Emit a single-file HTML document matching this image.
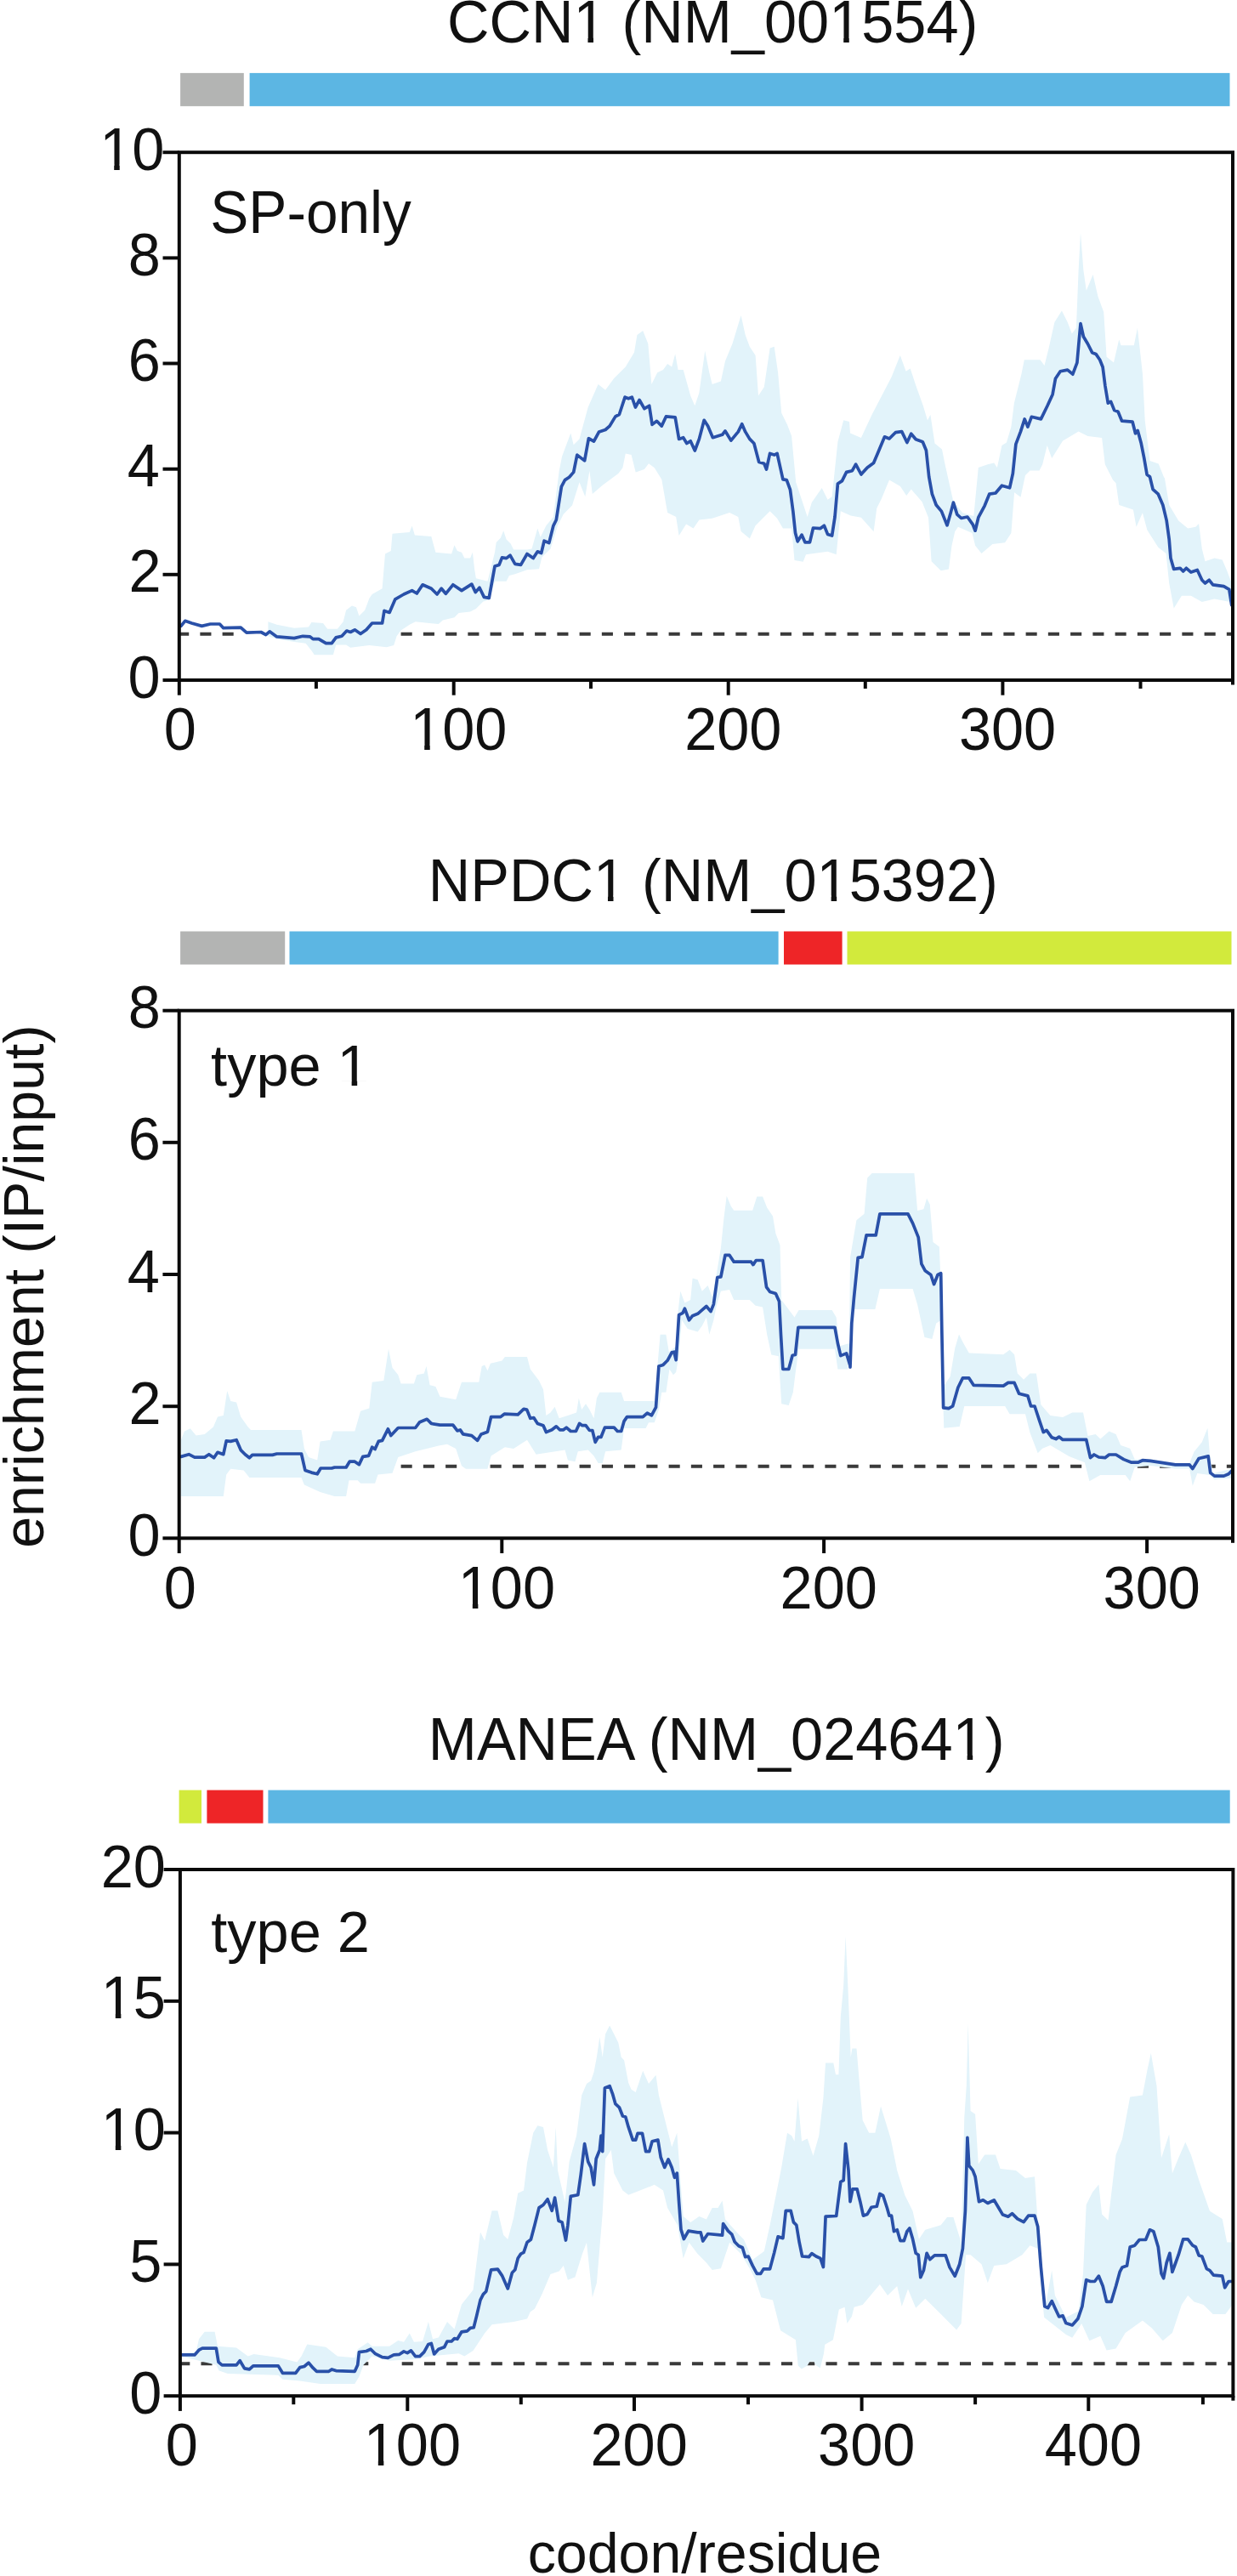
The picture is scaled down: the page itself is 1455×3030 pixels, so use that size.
<!DOCTYPE html>
<html lang="en"><head><meta charset="utf-8"><title>Selective ribosome profiling enrichment</title>
<style>html,body{margin:0;padding:0;background:#fff}svg{display:block}</style></head>
<body>
<svg width="1455" height="3030" viewBox="0 0 1455 3030" font-family="'Liberation Sans', Arial, Helvetica, sans-serif" fill="#111">
<rect width="1455" height="3030" fill="#fff"/>
<g>
<text transform="matrix(1.0000 0 0 1.0400 526.04 50.40)" font-size="68.5">CCN1 (NM_001554)</text>
<g transform="matrix(1.0000 0 0 1.0400 526.04 50.40)" fill="#fff"><rect x="151.82" y="-6.30" width="13.60" height="7.54"/><rect x="171.96" y="-6.30" width="13.02" height="7.54"/></g>
<g transform="matrix(1.0000 0 0 1.0400 526.04 50.40)" fill="#fff"><rect x="452.58" y="-6.30" width="13.60" height="7.54"/><rect x="472.72" y="-6.30" width="13.02" height="7.54"/></g>
<rect x="212.1" y="85.9" width="74.7" height="39" fill="#b3b4b3"/>
<rect x="293.6" y="85.9" width="1152.9" height="39" fill="#5cb6e3"/>
<line x1="209.1" y1="745.8" x2="277" y2="745.8" stroke="#3a3a3a" stroke-width="4" stroke-dasharray="13.1 13.15" stroke-dashoffset="0.00"/>
<line x1="470" y1="745.8" x2="1450" y2="745.8" stroke="#3a3a3a" stroke-width="4" stroke-dasharray="13.1 13.15" stroke-dashoffset="24.65"/>
<path d="M315.4,731.3 L325.6,734.7 L346.0,738.7 L363.0,737.4 L366.4,732.0 L380.0,733.0 L385.1,739.8 L396.9,739.8 L403.7,731.3 L407.1,717.7 L413.9,712.6 L419.0,714.3 L422.4,724.5 L429.2,717.7 L434.3,704.1 L437.7,699.0 L449.6,692.2 L453.0,651.5 L459.8,648.1 L461.5,627.7 L481.8,626.0 L484.6,618.5 L487.9,629.4 L507.3,631.1 L512.4,649.8 L531.1,651.5 L534.5,641.3 L537.9,648.1 L543.0,649.8 L546.3,656.6 L553.1,656.6 L555.9,649.8 L558.2,670.2 L559.9,680.3 L573.5,683.7 L582.0,649.8 L583.7,637.9 L588.8,632.8 L592.2,624.3 L595.6,634.5 L600.7,639.6 L604.1,646.4 L620.0,646.4 L625.5,645.4 L632.3,621.6 L635.7,631.8 L642.4,618.3 L650.9,608.1 L657.7,553.7 L661.1,536.8 L671.3,509.6 L674.7,523.2 L681.5,516.4 L691.7,479.0 L703.6,451.9 L712.1,458.7 L722.2,445.1 L735.8,431.5 L746.0,414.5 L749.4,394.1 L756.2,389.0 L762.3,404.3 L766.4,451.9 L773.2,438.3 L780.0,434.9 L785.1,428.1 L790.2,431.5 L794.2,416.2 L797.6,434.9 L803.7,434.9 L812.2,465.4 L817.3,477.3 L822.4,462.1 L829.2,412.8 L834.3,438.3 L837.7,451.9 L847.9,448.5 L853.0,424.7 L861.5,404.3 L871.6,371.1 L876.7,394.1 L881.8,407.7 L888.6,417.9 L892.0,465.4 L898.8,455.3 L905.6,409.4 L910.7,407.7 L915.1,438.3 L919.2,485.8 L926.0,499.4 L931.1,513.0 L936.2,567.3 L943.0,587.7 L949.7,608.1 L954.8,591.1 L966.7,574.1 L973.5,587.7 L978.6,584.3 L985.4,519.8 L992.2,494.3 L999.0,496.0 L1000.0,509.4 L1012.9,514.9 L1025.7,487.4 L1048.6,443.5 L1058.8,418.1 L1065.6,436.8 L1070.7,433.4 L1077.4,453.7 L1085.9,477.5 L1091.0,494.5 L1094.4,487.7 L1099.5,521.6 L1108.0,528.4 L1111.4,545.4 L1121.4,590.3 L1132.4,603.2 L1145.3,606.9 L1150.8,549.9 L1161.8,546.2 L1169.2,544.4 L1172.9,549.9 L1178.4,524.1 L1183.9,520.5 L1189.4,502.1 L1192.9,474.1 L1201.4,440.2 L1204.8,423.2 L1223.5,423.2 L1228.5,430.0 L1233.6,409.6 L1240.4,379.0 L1248.9,365.4 L1255.7,379.0 L1260.8,392.6 L1265.9,385.8 L1268.6,317.9 L1271.0,273.8 L1274.4,317.9 L1277.8,341.7 L1285.6,323.0 L1291.4,348.5 L1298.2,367.1 L1301.6,419.8 L1310.0,426.6 L1316.2,399.4 L1318.5,406.2 L1333.8,406.2 L1337.9,385.8 L1340.6,409.6 L1344.0,440.2 L1346.7,494.5 L1352.5,542.0 L1362.7,545.4 L1369.5,562.4 L1369.7,560.9 L1375.2,594.0 L1386.2,612.4 L1397.2,621.6 L1406.4,619.8 L1410.1,616.1 L1413.8,645.5 L1417.5,660.2 L1428.5,656.6 L1437.7,658.4 L1443.2,671.3 L1448.7,686.0 L1446.9,708.1 L1428.5,704.4 L1413.8,708.1 L1400.9,700.7 L1389.9,700.7 L1380.7,715.4 L1375.2,686.0 L1371.5,651.0 L1362.3,643.7 L1349.4,623.5 L1343.9,603.2 L1336.6,619.8 L1332.9,599.5 L1316.3,594.0 L1312.6,568.3 L1309.0,564.6 L1299.8,546.2 L1296.1,514.9 L1279.5,513.1 L1268.5,507.6 L1250.1,518.6 L1237.2,538.9 L1231.7,524.1 L1226.2,546.2 L1222.5,553.6 L1211.5,553.6 L1206.0,559.1 L1200.5,584.8 L1193.1,579.3 L1189.4,627.1 L1182.1,638.2 L1167.4,640.0 L1154.5,651.0 L1147.1,641.8 L1143.5,627.1 L1126.9,619.8 L1123.2,625.3 L1119.5,641.8 L1115.9,669.4 L1106.7,671.3 L1095.6,660.2 L1092.0,608.7 L1084.6,590.3 L1071.7,575.6 L1066.2,583.0 L1058.9,572.0 L1046.0,564.6 L1036.8,586.7 L1031.3,597.7 L1027.6,625.3 L1012.9,608.7 L1000.7,606.4 L988.8,601.3 L983.7,652.2 L973.5,648.8 L948.0,652.2 L944.7,660.7 L934.5,659.0 L931.1,621.6 L920.9,621.6 L914.1,609.8 L905.6,601.3 L888.6,618.3 L881.8,633.5 L871.6,625.0 L868.3,608.1 L858.1,603.0 L837.7,609.8 L822.4,611.5 L815.6,621.6 L807.1,616.6 L798.6,630.1 L795.2,608.1 L785.1,603.0 L778.3,563.9 L769.8,550.3 L763.0,545.2 L757.9,552.0 L747.7,555.4 L742.6,535.1 L735.8,533.4 L732.4,550.3 L727.3,557.1 L708.7,570.7 L696.8,580.9 L693.4,553.7 L688.3,584.3 L681.5,567.3 L673.0,594.5 L662.8,604.7 L656.0,618.3 L647.5,645.4 L637.4,655.6 L634.0,669.2 L620.0,670.2 L605.8,675.2 L599.0,676.9 L595.6,683.7 L582.0,683.7 L575.2,705.8 L568.4,707.5 L559.9,716.0 L553.1,719.4 L539.6,721.1 L534.5,726.2 L520.9,729.6 L515.8,734.0 L488.6,731.3 L481.8,734.7 L471.6,741.5 L466.6,748.3 L463.2,759.1 L454.7,761.2 L434.3,759.1 L412.2,761.8 L407.1,758.4 L395.2,758.4 L391.9,770.3 L369.8,770.3 L366.4,765.2 L359.6,756.7 L346.0,755.0 L325.6,751.6 L315.4,748.3Z" fill="#e2f3fa"/>
<path d="M212.9,736.4 L217.7,730.3 L225.5,733.0 L237.4,736.4 L247.5,734.0 L258.4,734.0 L262.8,738.7 L283.2,738.1 L290.0,744.2 L307.0,743.5 L312.7,746.6 L317.1,742.8 L325.6,748.9 L346.0,750.6 L356.2,748.3 L364.7,748.9 L368.1,751.6 L374.9,751.6 L383.4,756.7 L390.2,756.7 L395.2,749.9 L402.0,748.3 L407.8,742.1 L412.2,743.5 L417.3,740.8 L424.1,745.5 L430.9,740.8 L437.7,733.0 L449.6,733.0 L452.0,718.4 L458.1,720.4 L464.9,704.8 L475.0,699.0 L484.6,694.6 L490.3,698.0 L497.1,687.8 L507.3,692.2 L514.1,699.0 L519.2,692.2 L524.3,698.3 L532.8,687.8 L543.0,694.6 L554.8,687.1 L559.3,696.6 L564.0,691.2 L569.4,702.4 L575.2,703.4 L582.0,666.1 L587.1,664.4 L590.5,655.9 L595.6,656.6 L600.0,653.2 L605.8,663.4 L612.6,664.4 L620.0,651.5 L627.2,656.6 L632.3,648.8 L636.7,650.5 L640.1,636.2 L645.8,638.6 L650.9,618.3 L654.3,611.5 L660.4,572.4 L664.5,564.6 L669.6,561.2 L674.7,555.4 L678.8,535.1 L687.6,541.9 L692.4,515.7 L698.5,519.1 L704.6,507.9 L712.1,505.5 L717.1,501.1 L723.9,489.9 L728.4,487.5 L735.1,467.1 L739.2,468.8 L743.3,467.1 L747.4,479.0 L752.1,470.5 L757.9,480.7 L763.7,477.3 L767.1,499.4 L772.5,495.3 L778.3,501.1 L783.4,489.9 L794.2,490.9 L798.6,516.4 L803.7,514.7 L807.8,521.5 L812.2,518.8 L817.3,530.0 L822.4,516.4 L828.2,494.3 L832.6,501.1 L838.4,514.7 L849.6,511.3 L853.0,506.9 L859.8,518.1 L868.3,507.9 L872.7,498.7 L876.7,507.9 L881.8,516.4 L886.9,521.5 L892.7,543.5 L898.8,545.2 L901.5,552.0 L905.6,533.4 L910.7,535.1 L914.1,533.4 L920.9,563.9 L925.3,564.6 L929.4,575.8 L932.8,601.3 L935.5,626.7 L938.2,636.9 L943.0,629.1 L947.0,637.9 L952.5,637.9 L956.5,621.0 L965.0,621.6 L969.4,618.3 L973.5,628.4 L978.6,630.1 L982.0,608.1 L985.4,569.0 L990.5,565.6 L995.6,555.4 L1002.4,553.7 L1006.6,546.2 L1012.9,558.0 L1020.2,549.9 L1027.6,544.4 L1033.1,531.5 L1040.5,513.8 L1046.0,516.0 L1053.3,508.7 L1060.7,507.6 L1066.9,520.5 L1071.7,510.2 L1077.2,516.8 L1085.3,519.7 L1089.4,529.7 L1092.7,560.9 L1096.4,581.2 L1101.2,594.0 L1107.4,601.4 L1114.0,617.9 L1117.7,605.1 L1121.4,591.1 L1125.8,605.1 L1130.6,609.5 L1137.9,608.0 L1144.2,616.8 L1147.1,624.2 L1150.8,608.7 L1158.2,594.8 L1163.7,581.2 L1171.0,580.0 L1178.4,571.2 L1187.6,573.8 L1191.3,557.2 L1194.9,522.3 L1200.5,507.6 L1205.2,492.9 L1208.9,502.1 L1213.3,490.3 L1224.4,492.9 L1231.9,477.5 L1238.1,463.9 L1241.5,445.2 L1247.2,436.8 L1255.7,435.1 L1261.8,440.2 L1266.9,426.6 L1269.3,399.4 L1271.0,380.7 L1274.4,396.0 L1279.5,404.5 L1284.6,414.7 L1289.0,416.4 L1293.7,423.2 L1297.1,431.7 L1299.9,453.7 L1303.3,474.1 L1306.6,472.4 L1310.7,482.6 L1315.1,484.3 L1319.6,495.2 L1332.1,496.2 L1335.5,509.8 L1338.2,506.4 L1342.3,521.6 L1345.7,538.6 L1349.1,558.3 L1352.5,560.7 L1356.1,575.6 L1362.3,581.2 L1367.8,594.0 L1372.2,612.4 L1375.2,634.5 L1377.0,656.6 L1380.7,669.4 L1388.1,668.3 L1391.7,672.0 L1395.4,668.3 L1400.9,673.1 L1408.3,670.5 L1413.8,682.3 L1417.5,686.0 L1422.3,682.3 L1426.7,687.8 L1439.5,689.7 L1445.8,693.3 L1448.7,711.7" fill="none" stroke="#2950a8" stroke-width="3.7" stroke-linejoin="round" stroke-linecap="round"/>
<rect x="210.8" y="179.2" width="1239.2" height="620.8" fill="none" stroke="#0a0a0a" stroke-width="4.0"/>
<line x1="1450" y1="800" x2="1450" y2="805.5" stroke="#0a0a0a" stroke-width="4.0"/>
<line x1="191.5" y1="800.0" x2="210.8" y2="800.0" stroke="#0a0a0a" stroke-width="4.0"/>
<text transform="matrix(1.0000 0 0 1.0220 150.55 820.60)" font-size="68.5">0</text>
<line x1="191.5" y1="675.8" x2="210.8" y2="675.8" stroke="#0a0a0a" stroke-width="4.0"/>
<text transform="matrix(1.0000 0 0 1.0220 151.38 696.44)" font-size="68.5">2</text>
<line x1="191.5" y1="551.7" x2="210.8" y2="551.7" stroke="#0a0a0a" stroke-width="4.0"/>
<text transform="matrix(1.0000 0 0 1.0220 149.73 572.28)" font-size="68.5">4</text>
<line x1="191.5" y1="427.5" x2="210.8" y2="427.5" stroke="#0a0a0a" stroke-width="4.0"/>
<text transform="matrix(1.0000 0 0 1.0220 150.83 448.12)" font-size="68.5">6</text>
<line x1="191.5" y1="303.4" x2="210.8" y2="303.4" stroke="#0a0a0a" stroke-width="4.0"/>
<text transform="matrix(1.0000 0 0 1.0220 150.83 323.96)" font-size="68.5">8</text>
<line x1="191.5" y1="179.2" x2="210.8" y2="179.2" stroke="#0a0a0a" stroke-width="4.0"/>
<text transform="matrix(1.0000 0 0 1.0220 117.17 199.80)" font-size="68.5">10</text>
<g transform="matrix(1.0000 0 0 1.0220 117.17 199.80)" fill="#fff"><rect x="3.43" y="-6.30" width="13.60" height="7.54"/><rect x="23.56" y="-6.30" width="13.02" height="7.54"/></g>
<line x1="210.8" y1="800" x2="210.8" y2="817.7" stroke="#0a0a0a" stroke-width="4.0"/>
<text transform="matrix(1.0000 0 0 1.0220 192.85 882.20)" font-size="68.5">0</text>
<line x1="533.7" y1="800" x2="533.7" y2="817.7" stroke="#0a0a0a" stroke-width="4.0"/>
<text transform="matrix(1.0000 0 0 1.0220 482.18 882.20)" font-size="68.5">100</text>
<g transform="matrix(1.0000 0 0 1.0220 482.18 882.20)" fill="#fff"><rect x="3.43" y="-6.30" width="13.60" height="7.54"/><rect x="23.56" y="-6.30" width="13.02" height="7.54"/></g>
<line x1="856.7" y1="800" x2="856.7" y2="817.7" stroke="#0a0a0a" stroke-width="4.0"/>
<text transform="matrix(1.0000 0 0 1.0220 805.18 882.20)" font-size="68.5">200</text>
<line x1="1179.4" y1="800" x2="1179.4" y2="817.7" stroke="#0a0a0a" stroke-width="4.0"/>
<text transform="matrix(1.0000 0 0 1.0220 1127.88 882.20)" font-size="68.5">300</text>
<line x1="371.9" y1="800" x2="371.9" y2="810" stroke="#0a0a0a" stroke-width="4.0"/>
<line x1="695" y1="800" x2="695" y2="810" stroke="#0a0a0a" stroke-width="4.0"/>
<line x1="1017.8" y1="800" x2="1017.8" y2="810" stroke="#0a0a0a" stroke-width="4.0"/>
<line x1="1341.5" y1="800" x2="1341.5" y2="810" stroke="#0a0a0a" stroke-width="4.0"/>
<text transform="matrix(0.9870 0 0 1.0300 247.25 274.30)" font-size="68.5">SP-only</text>
</g>
<g>
<text transform="matrix(1.0000 0 0 1.0400 503.85 1060.00)" font-size="68.5">NPDC1 (NM_015392)</text>
<g transform="matrix(1.0000 0 0 1.0400 503.85 1060.00)" fill="#fff"><rect x="197.52" y="-6.30" width="13.60" height="7.54"/><rect x="217.65" y="-6.30" width="13.02" height="7.54"/></g>
<g transform="matrix(1.0000 0 0 1.0400 503.85 1060.00)" fill="#fff"><rect x="460.18" y="-6.30" width="13.60" height="7.54"/><rect x="480.32" y="-6.30" width="13.02" height="7.54"/></g>
<rect x="212.1" y="1095.5" width="123.1" height="39" fill="#b3b4b3"/>
<rect x="340.5" y="1095.5" width="575.1" height="39" fill="#5cb6e3"/>
<rect x="922" y="1095.5" width="68.6" height="39" fill="#ee2527"/>
<rect x="996.5" y="1095.5" width="452.0" height="39" fill="#d2ea3c"/>
<line x1="470" y1="1724.7" x2="1450" y2="1724.7" stroke="#3a3a3a" stroke-width="4" stroke-dasharray="13.1 13.15" stroke-dashoffset="24.65"/>
<path d="M212.9,1693.7 L217.0,1683.5 L223.8,1680.2 L230.6,1688.6 L240.7,1686.9 L250.9,1678.5 L256.0,1666.6 L262.8,1664.9 L267.2,1636.0 L271.3,1647.9 L278.1,1649.6 L283.2,1666.6 L291.7,1678.5 L295.1,1681.9 L354.5,1681.9 L357.9,1703.9 L363.0,1714.1 L373.2,1717.5 L376.6,1695.4 L388.5,1693.7 L391.9,1683.5 L417.3,1683.5 L424.1,1659.8 L434.3,1656.4 L437.7,1625.8 L451.3,1624.1 L457.0,1586.8 L461.5,1608.8 L468.3,1617.3 L471.6,1627.5 L486.9,1627.5 L490.3,1617.3 L498.8,1615.6 L501.5,1607.1 L505.6,1629.2 L512.4,1630.9 L517.5,1642.8 L536.2,1646.2 L543.0,1625.8 L563.3,1625.8 L566.7,1607.1 L570.1,1605.4 L573.5,1612.2 L576.9,1603.8 L590.5,1600.4 L593.9,1595.9 L620.0,1595.9 L623.8,1610.5 L634.0,1624.1 L639.0,1634.3 L642.4,1664.9 L647.5,1661.5 L652.6,1654.7 L657.7,1668.3 L667.9,1664.9 L678.1,1661.5 L680.8,1644.5 L684.2,1658.1 L689.0,1651.3 L693.4,1658.1 L698.5,1668.3 L701.9,1644.5 L705.3,1637.7 L730.7,1637.7 L734.1,1647.9 L769.8,1647.9 L773.9,1600.3 L776.6,1569.8 L783.4,1569.8 L786.8,1590.2 L795.2,1583.4 L797.6,1542.6 L800.3,1518.8 L805.4,1532.4 L812.2,1529.0 L814.6,1503.6 L820.7,1505.3 L825.8,1518.8 L832.6,1512.1 L837.7,1525.6 L842.8,1498.5 L847.9,1467.9 L851.3,1434.0 L854.7,1406.8 L859.8,1418.7 L863.2,1423.8 L885.2,1423.8 L890.3,1407.5 L897.1,1407.5 L902.2,1420.4 L909.0,1430.6 L912.4,1450.9 L917.5,1464.5 L919.2,1529.0 L934.5,1549.4 L939.6,1540.9 L978.6,1540.9 L983.7,1549.4 L987.1,1583.4 L999.0,1580.0 L1000.0,1479.3 L1007.4,1435.2 L1016.6,1427.8 L1020.2,1385.5 L1025.7,1380.0 L1075.4,1380.0 L1079.1,1424.1 L1086.4,1422.3 L1090.1,1409.4 L1093.8,1416.8 L1097.5,1460.9 L1104.8,1466.4 L1107.4,1527.1 L1110.3,1630.1 L1117.7,1619.1 L1123.2,1586.0 L1128.0,1569.4 L1132.4,1578.6 L1139.8,1591.5 L1180.2,1593.3 L1187.6,1587.8 L1193.1,1593.3 L1196.8,1615.4 L1204.1,1622.8 L1211.5,1615.4 L1218.9,1615.4 L1224.4,1652.2 L1235.4,1665.1 L1250.1,1666.9 L1261.2,1661.4 L1274.0,1661.4 L1279.5,1689.0 L1288.7,1687.1 L1294.3,1692.6 L1304.6,1683.5 L1312.6,1687.1 L1318.2,1700.0 L1329.2,1703.7 L1334.7,1716.6 L1353.1,1716.6 L1382.5,1721.0 L1399.1,1721.0 L1404.6,1707.4 L1413.8,1696.3 L1420.4,1679.8 L1423.0,1711.0 L1426.7,1733.1 L1449.5,1727.6 L1449.5,1738.6 L1428.5,1740.5 L1423.0,1734.9 L1408.3,1733.1 L1402.8,1747.8 L1399.1,1727.6 L1382.5,1727.6 L1353.1,1723.9 L1334.7,1725.8 L1329.2,1742.3 L1323.7,1734.9 L1294.3,1734.9 L1281.4,1742.3 L1275.9,1720.2 L1257.5,1712.9 L1235.4,1700.0 L1226.2,1703.7 L1220.7,1709.2 L1211.5,1685.3 L1206.0,1663.2 L1187.6,1663.2 L1182.1,1654.0 L1134.3,1654.0 L1128.7,1677.9 L1110.3,1679.8 L1108.9,1637.5 L1106.7,1552.9 L1101.2,1556.6 L1096.4,1574.9 L1087.5,1573.1 L1079.1,1534.5 L1073.6,1516.1 L1034.9,1516.1 L1029.4,1540.0 L1003.7,1540.0 L1000.0,1563.9 L997.3,1610.5 L985.4,1610.5 L982.0,1586.8 L939.6,1586.8 L936.2,1610.5 L932.8,1637.7 L927.7,1653.0 L919.2,1651.3 L915.8,1595.2 L907.3,1593.5 L902.2,1569.8 L897.1,1537.5 L888.6,1535.8 L881.8,1529.0 L863.2,1529.0 L858.1,1517.1 L847.9,1518.8 L842.8,1535.8 L839.4,1552.8 L834.3,1569.8 L830.9,1549.4 L825.8,1559.6 L820.7,1566.4 L808.8,1563.0 L802.0,1552.8 L798.6,1593.5 L795.2,1613.9 L791.9,1617.3 L787.4,1610.5 L783.4,1637.7 L778.3,1637.7 L774.9,1658.1 L769.8,1673.3 L763.0,1673.3 L759.6,1680.1 L734.1,1680.1 L730.7,1705.6 L712.1,1707.3 L708.7,1720.9 L703.6,1720.9 L698.5,1712.4 L691.7,1705.6 L679.8,1707.3 L676.4,1719.2 L667.9,1717.5 L664.5,1705.6 L630.6,1710.7 L620.0,1693.7 L604.1,1703.9 L593.9,1702.2 L577.6,1712.4 L573.5,1727.7 L548.0,1727.7 L543.0,1724.3 L536.2,1703.9 L526.0,1698.8 L515.8,1700.5 L488.6,1707.3 L468.3,1714.1 L461.5,1732.8 L444.5,1734.5 L441.1,1744.7 L424.1,1744.7 L420.7,1741.3 L410.5,1741.3 L407.1,1759.9 L393.5,1759.9 L376.6,1754.9 L357.9,1746.4 L354.5,1737.9 L293.4,1737.9 L286.6,1729.4 L271.3,1727.7 L266.2,1734.5 L262.8,1759.9 L212.9,1759.9Z" fill="#e2f3fa"/>
<path d="M212.9,1713.4 L222.1,1710.7 L228.9,1714.1 L240.7,1714.1 L245.8,1710.7 L251.6,1714.8 L256.0,1708.3 L262.8,1710.7 L266.2,1694.8 L271.3,1695.4 L278.1,1693.7 L283.2,1705.6 L288.3,1710.7 L293.4,1714.8 L296.8,1711.4 L320.5,1711.4 L325.6,1710.0 L354.5,1710.0 L358.9,1729.4 L366.4,1732.1 L373.2,1733.8 L377.2,1727.0 L390.2,1727.0 L393.5,1726.0 L407.1,1726.0 L411.2,1719.2 L417.3,1719.2 L422.4,1722.6 L426.8,1713.4 L433.6,1712.4 L437.7,1702.2 L441.1,1704.6 L445.2,1695.4 L449.6,1694.4 L456.4,1680.8 L459.8,1688.6 L468.3,1679.5 L488.6,1679.5 L493.7,1672.7 L502.2,1669.3 L507.3,1674.4 L517.5,1676.1 L532.8,1676.1 L537.9,1682.9 L541.3,1681.9 L544.7,1686.9 L554.8,1688.6 L561.6,1694.4 L566.0,1686.9 L573.5,1684.2 L577.6,1666.6 L588.8,1666.6 L593.2,1663.2 L609.2,1663.9 L616.0,1657.4 L619.7,1658.1 L623.8,1668.3 L627.8,1667.6 L632.3,1674.4 L639.0,1676.7 L642.4,1684.6 L649.2,1681.8 L654.3,1677.8 L658.4,1681.8 L662.8,1681.8 L666.2,1679.1 L671.3,1683.5 L677.4,1683.5 L681.5,1674.4 L684.9,1676.7 L689.0,1676.7 L693.4,1682.5 L696.8,1682.5 L700.2,1696.4 L703.6,1690.3 L707.0,1690.3 L711.4,1679.1 L722.2,1679.1 L726.3,1683.5 L730.7,1683.5 L734.1,1671.6 L737.5,1666.6 L756.2,1666.6 L761.3,1662.1 L766.4,1664.9 L771.5,1655.3 L774.9,1607.1 L780.0,1605.4 L785.1,1600.3 L790.2,1590.8 L792.9,1590.2 L795.2,1599.7 L798.6,1546.7 L803.1,1544.3 L805.4,1539.2 L810.5,1552.8 L814.6,1547.7 L820.7,1545.3 L825.8,1540.9 L830.9,1536.5 L836.0,1542.6 L839.4,1534.1 L843.8,1502.5 L847.9,1501.9 L853.0,1476.4 L858.1,1476.4 L863.2,1484.2 L883.5,1484.2 L885.9,1487.6 L889.3,1482.5 L897.1,1482.5 L901.5,1513.8 L905.6,1519.5 L912.4,1521.6 L916.5,1530.7 L918.5,1569.8 L920.9,1610.5 L927.7,1610.5 L932.1,1594.2 L935.5,1593.5 L938.9,1561.3 L982.0,1561.3 L985.4,1580.0 L988.8,1594.6 L995.6,1591.9 L1000.0,1606.5 L1000.0,1608.1 L1001.8,1556.6 L1004.4,1527.1 L1009.2,1479.3 L1014.0,1478.6 L1019.1,1452.8 L1030.2,1452.8 L1034.9,1427.8 L1068.0,1427.8 L1073.6,1438.9 L1080.2,1455.4 L1083.9,1486.7 L1088.3,1494.8 L1094.9,1499.5 L1098.6,1510.6 L1103.0,1499.5 L1106.7,1497.7 L1107.8,1563.9 L1109.6,1655.9 L1115.9,1656.6 L1120.6,1654.0 L1126.9,1632.0 L1132.4,1620.9 L1139.8,1620.9 L1145.3,1629.4 L1180.2,1630.1 L1185.8,1626.4 L1193.1,1626.4 L1198.6,1639.3 L1208.9,1641.9 L1212.6,1654.0 L1217.0,1654.0 L1222.5,1670.6 L1227.3,1684.6 L1231.0,1682.4 L1237.2,1690.8 L1242.0,1692.6 L1245.7,1690.1 L1250.1,1693.4 L1277.7,1693.4 L1282.5,1714.7 L1286.9,1711.0 L1292.4,1714.0 L1299.8,1714.7 L1304.6,1711.0 L1312.6,1711.0 L1321.8,1716.6 L1331.0,1720.2 L1338.4,1720.2 L1343.9,1717.7 L1353.1,1718.4 L1382.5,1722.8 L1399.1,1722.8 L1402.8,1727.6 L1410.1,1715.5 L1421.2,1712.9 L1423.7,1732.4 L1428.5,1736.1 L1439.5,1736.1 L1445.1,1733.8 L1449.5,1729.4" fill="none" stroke="#2950a8" stroke-width="3.7" stroke-linejoin="round" stroke-linecap="round"/>
<rect x="210.7" y="1188.7" width="1239.3" height="620.6" fill="none" stroke="#0a0a0a" stroke-width="4.0"/>
<line x1="1450" y1="1809.3" x2="1450" y2="1814.8" stroke="#0a0a0a" stroke-width="4.0"/>
<line x1="191.39999999999998" y1="1809.3" x2="210.7" y2="1809.3" stroke="#0a0a0a" stroke-width="4.0"/>
<text transform="matrix(1.0000 0 0 1.0220 150.55 1829.90)" font-size="68.5">0</text>
<line x1="191.39999999999998" y1="1654.2" x2="210.7" y2="1654.2" stroke="#0a0a0a" stroke-width="4.0"/>
<text transform="matrix(1.0000 0 0 1.0220 151.38 1674.75)" font-size="68.5">2</text>
<line x1="191.39999999999998" y1="1499.0" x2="210.7" y2="1499.0" stroke="#0a0a0a" stroke-width="4.0"/>
<text transform="matrix(1.0000 0 0 1.0220 149.73 1519.60)" font-size="68.5">4</text>
<line x1="191.39999999999998" y1="1343.8" x2="210.7" y2="1343.8" stroke="#0a0a0a" stroke-width="4.0"/>
<text transform="matrix(1.0000 0 0 1.0220 150.83 1364.45)" font-size="68.5">6</text>
<line x1="191.39999999999998" y1="1188.7" x2="210.7" y2="1188.7" stroke="#0a0a0a" stroke-width="4.0"/>
<text transform="matrix(1.0000 0 0 1.0220 150.83 1209.30)" font-size="68.5">8</text>
<line x1="210.7" y1="1809.3" x2="210.7" y2="1827.0" stroke="#0a0a0a" stroke-width="4.0"/>
<text transform="matrix(1.0000 0 0 1.0220 192.75 1891.50)" font-size="68.5">0</text>
<line x1="590.3" y1="1809.3" x2="590.3" y2="1827.0" stroke="#0a0a0a" stroke-width="4.0"/>
<text transform="matrix(1.0000 0 0 1.0220 538.78 1891.50)" font-size="68.5">100</text>
<g transform="matrix(1.0000 0 0 1.0220 538.78 1891.50)" fill="#fff"><rect x="3.43" y="-6.30" width="13.60" height="7.54"/><rect x="23.56" y="-6.30" width="13.02" height="7.54"/></g>
<line x1="969.1" y1="1809.3" x2="969.1" y2="1827.0" stroke="#0a0a0a" stroke-width="4.0"/>
<text transform="matrix(1.0000 0 0 1.0220 917.58 1891.50)" font-size="68.5">200</text>
<line x1="1349.1" y1="1809.3" x2="1349.1" y2="1827.0" stroke="#0a0a0a" stroke-width="4.0"/>
<text transform="matrix(1.0000 0 0 1.0220 1297.58 1891.50)" font-size="68.5">300</text>
<text transform="matrix(1.0000 0 0 1.0000 248.10 1277.40)" font-size="68.5">type 1</text>
<g transform="matrix(1.0000 0 0 1.0000 248.10 1277.40)" fill="#fff"><rect x="151.93" y="-6.30" width="13.60" height="7.54"/><rect x="172.07" y="-6.30" width="13.02" height="7.54"/></g>
</g>
<g>
<text transform="matrix(1.0000 0 0 1.0400 503.85 2070.10)" font-size="68.5">MANEA (NM_024641)</text>
<g transform="matrix(1.0000 0 0 1.0400 503.85 2070.10)" fill="#fff"><rect x="620.19" y="-6.30" width="13.60" height="7.54"/><rect x="640.33" y="-6.30" width="13.02" height="7.54"/></g>
<rect x="210.6" y="2105.6" width="26.4" height="39" fill="#d2ea3c"/>
<rect x="243.4" y="2105.6" width="66.1" height="39" fill="#ee2527"/>
<rect x="315.4" y="2105.6" width="1131.3" height="39" fill="#5cb6e3"/>
<line x1="209.1" y1="2780.2" x2="251" y2="2780.2" stroke="#3a3a3a" stroke-width="4" stroke-dasharray="13.1 13.15" stroke-dashoffset="25.15"/>
<line x1="419" y1="2780.2" x2="434.5" y2="2780.2" stroke="#3a3a3a" stroke-width="4" stroke-dasharray="13.1 13.15" stroke-dashoffset="25.05"/>
<line x1="471" y1="2780.2" x2="1450" y2="2780.2" stroke="#3a3a3a" stroke-width="4" stroke-dasharray="13.1 13.15" stroke-dashoffset="24.55"/>
<path d="M212.9,2768.3 L230.6,2766.6 L234.0,2751.3 L240.7,2742.8 L252.6,2742.8 L256.0,2759.8 L278.1,2761.5 L291.7,2771.6 L298.5,2768.9 L329.0,2773.3 L349.4,2778.4 L354.5,2771.6 L361.3,2757.4 L383.4,2760.8 L396.9,2771.6 L417.3,2773.3 L420.7,2763.2 L432.6,2755.3 L437.7,2759.8 L458.1,2759.8 L468.3,2753.0 L475.0,2754.7 L481.8,2744.5 L486.9,2754.7 L497.1,2754.0 L503.9,2730.9 L509.0,2751.3 L515.8,2749.6 L526.0,2730.9 L534.5,2739.4 L543.0,2710.5 L556.5,2693.5 L565.0,2625.6 L570.1,2635.8 L578.6,2600.2 L585.4,2600.2 L592.2,2629.0 L597.3,2634.1 L604.1,2608.7 L609.2,2579.8 L616.0,2576.4 L620.0,2544.1 L627.2,2508.7 L632.3,2500.2 L639.0,2501.9 L644.1,2529.0 L650.9,2549.4 L653.7,2501.9 L656.0,2552.8 L664.5,2590.2 L669.6,2542.6 L678.1,2512.1 L684.2,2464.5 L690.0,2450.9 L695.1,2447.5 L698.5,2437.4 L701.9,2419.8 L705.3,2396.0 L708.7,2419.8 L712.1,2392.6 L717.1,2382.4 L722.2,2392.6 L727.3,2402.8 L730.7,2419.8 L734.1,2423.2 L739.2,2450.0 L742.6,2457.7 L747.7,2461.1 L756.2,2435.7 L763.0,2450.9 L771.5,2440.7 L774.9,2464.5 L783.4,2498.5 L790.2,2525.6 L796.3,2508.7 L800.3,2563.0 L803.7,2607.1 L812.2,2613.9 L822.4,2607.1 L830.9,2610.5 L837.7,2596.9 L844.5,2596.9 L849.6,2588.5 L853.0,2610.5 L868.3,2627.5 L875.0,2634.3 L885.2,2658.1 L898.8,2647.9 L905.6,2617.3 L912.4,2583.4 L919.2,2549.4 L926.0,2508.7 L931.1,2512.1 L934.5,2518.8 L938.5,2467.9 L943.0,2518.8 L949.7,2515.4 L956.5,2535.8 L963.3,2512.1 L968.4,2467.9 L970.8,2430.6 L971.1,2426.6 L980.3,2426.6 L983.0,2440.2 L986.4,2440.2 L988.8,2372.2 L992.2,2334.9 L994.6,2277.2 L997.3,2334.9 L1000.7,2419.8 L1002.4,2409.6 L1007.5,2409.6 L1010.9,2450.0 L1014.7,2494.0 L1022.1,2508.7 L1029.4,2508.7 L1036.0,2477.5 L1042.3,2497.7 L1047.8,2516.1 L1055.2,2552.9 L1064.4,2582.3 L1073.6,2600.7 L1080.9,2633.8 L1088.3,2622.8 L1106.7,2617.2 L1114.0,2608.1 L1121.4,2608.1 L1130.6,2637.5 L1134.3,2490.3 L1136.8,2453.6 L1138.7,2380.0 L1141.6,2483.0 L1147.1,2486.7 L1150.8,2545.5 L1158.2,2534.5 L1171.0,2534.5 L1176.6,2551.0 L1194.9,2552.9 L1206.0,2562.1 L1217.0,2560.2 L1220.7,2615.4 L1229.9,2711.0 L1237.2,2670.6 L1240.9,2700.0 L1253.8,2725.8 L1268.5,2718.4 L1274.0,2674.3 L1277.7,2593.3 L1285.1,2578.6 L1292.4,2569.4 L1296.1,2604.4 L1303.5,2611.7 L1312.6,2534.5 L1320.0,2516.1 L1329.2,2466.4 L1343.9,2464.6 L1349.4,2435.2 L1353.8,2414.9 L1360.5,2453.6 L1366.0,2538.2 L1375.2,2510.6 L1378.9,2556.6 L1386.2,2538.2 L1394.3,2519.8 L1400.9,2534.5 L1410.1,2563.9 L1423.0,2600.7 L1437.7,2609.9 L1443.2,2637.5 L1449.5,2637.5 L1449.5,2711.0 L1441.4,2722.1 L1426.7,2722.1 L1415.6,2711.0 L1404.6,2707.4 L1397.2,2700.0 L1389.9,2711.0 L1378.9,2744.1 L1367.8,2753.3 L1354.9,2738.6 L1343.9,2729.4 L1323.7,2744.1 L1312.6,2762.5 L1301.6,2764.4 L1294.3,2747.8 L1281.4,2753.3 L1272.2,2733.1 L1261.2,2749.7 L1253.8,2746.0 L1228.1,2725.8 L1220.7,2644.8 L1211.5,2641.2 L1202.3,2652.2 L1183.9,2663.2 L1169.2,2665.1 L1161.8,2685.3 L1154.5,2663.2 L1141.6,2652.2 L1136.1,2652.2 L1130.6,2733.1 L1125.1,2740.5 L1106.7,2722.1 L1088.3,2703.7 L1077.2,2714.7 L1068.0,2692.6 L1060.7,2712.9 L1055.2,2689.0 L1044.1,2700.0 L1034.9,2687.1 L1014.7,2711.0 L1004.6,2713.7 L1001.9,2724.7 L996.4,2733.0 L993.6,2713.7 L986.8,2716.5 L979.9,2752.2 L970.3,2757.7 L968.9,2768.7 L964.8,2785.2 L960.1,2782.5 L957.4,2777.8 L952.4,2777.8 L949.7,2782.5 L942.8,2786.6 L938.7,2782.5 L935.9,2752.2 L918.1,2741.2 L909.0,2705.6 L895.4,2702.2 L888.6,2681.8 L881.8,2668.3 L871.6,2651.3 L858.1,2637.7 L847.9,2668.3 L837.7,2669.9 L830.9,2661.5 L820.7,2651.3 L810.5,2637.7 L803.7,2656.4 L796.9,2617.3 L785.1,2596.9 L780.0,2576.6 L769.8,2569.8 L752.8,2576.6 L739.2,2581.7 L732.4,2576.6 L722.2,2556.2 L718.8,2529.0 L712.1,2539.2 L708.7,2603.7 L701.9,2685.2 L696.8,2702.2 L690.0,2637.7 L684.9,2651.3 L676.4,2678.4 L667.9,2681.8 L662.8,2664.9 L657.7,2671.6 L647.5,2675.0 L637.4,2698.8 L628.9,2715.8 L623.8,2719.2 L620.0,2727.5 L604.1,2730.9 L578.6,2734.3 L570.1,2744.5 L556.5,2764.9 L546.3,2771.6 L539.6,2768.3 L505.6,2771.6 L488.6,2775.0 L458.1,2776.7 L437.7,2771.6 L427.5,2781.8 L422.4,2795.4 L417.3,2803.9 L376.6,2803.9 L352.8,2800.5 L332.4,2798.8 L327.3,2793.7 L267.9,2792.0 L257.7,2788.6 L254.3,2781.8 L212.9,2771.6Z" fill="#e2f3fa"/>
<path d="M212.9,2769.9 L228.9,2769.9 L234.0,2764.2 L238.0,2762.1 L254.3,2762.1 L257.0,2778.4 L261.1,2781.8 L278.1,2781.8 L282.2,2776.7 L287.6,2785.9 L293.4,2786.9 L297.8,2782.9 L327.3,2782.9 L332.4,2791.3 L347.7,2791.3 L352.8,2784.6 L357.9,2783.5 L363.0,2779.1 L368.1,2785.2 L372.5,2789.3 L386.8,2789.3 L390.2,2786.9 L395.2,2788.6 L417.3,2789.3 L420.7,2781.8 L422.4,2766.6 L430.9,2765.5 L436.0,2763.2 L441.1,2768.3 L449.6,2772.7 L456.4,2773.3 L463.2,2769.9 L469.9,2769.3 L475.0,2765.9 L479.1,2767.6 L483.5,2764.9 L488.6,2771.6 L493.7,2771.6 L498.8,2766.6 L503.9,2757.4 L507.3,2756.4 L510.7,2768.9 L515.8,2763.2 L522.6,2760.8 L526.0,2754.0 L531.1,2754.0 L534.5,2750.6 L537.9,2751.3 L543.0,2742.8 L549.7,2741.8 L553.1,2738.4 L557.2,2737.7 L560.6,2724.1 L565.0,2705.4 L568.4,2698.6 L571.8,2695.2 L577.6,2669.8 L585.4,2669.1 L590.5,2676.6 L597.3,2691.9 L602.4,2673.2 L605.8,2669.8 L609.2,2656.2 L612.6,2651.1 L616.0,2649.4 L620.0,2637.5 L624.4,2634.3 L628.9,2617.3 L634.0,2596.9 L639.0,2593.5 L644.1,2586.8 L649.2,2600.3 L652.6,2585.1 L657.0,2612.2 L661.1,2613.9 L665.5,2635.0 L667.9,2617.3 L671.3,2583.4 L679.8,2581.7 L683.2,2557.9 L687.6,2521.6 L691.7,2542.6 L695.1,2549.4 L698.5,2569.8 L701.2,2539.2 L705.3,2529.0 L707.0,2512.1 L708.7,2530.7 L711.4,2456.0 L717.1,2453.7 L720.5,2462.8 L723.9,2474.7 L728.4,2478.8 L732.4,2489.0 L735.8,2490.0 L739.2,2501.9 L744.3,2517.1 L747.7,2517.1 L750.1,2509.3 L755.5,2509.3 L759.6,2530.7 L763.7,2530.7 L767.1,2518.8 L773.9,2517.1 L777.2,2537.5 L781.7,2549.4 L786.1,2539.9 L790.2,2549.4 L793.5,2561.3 L796.3,2556.2 L798.6,2590.2 L801.0,2622.4 L804.4,2633.6 L809.8,2624.1 L820.7,2625.8 L824.1,2625.8 L826.8,2636.0 L832.6,2627.5 L849.6,2629.2 L850.6,2615.6 L856.4,2624.1 L860.8,2628.2 L864.2,2637.0 L868.9,2641.8 L873.3,2643.8 L876.7,2654.7 L880.1,2654.0 L885.2,2664.9 L890.3,2674.4 L894.7,2674.4 L898.1,2668.9 L905.6,2668.9 L910.7,2649.6 L915.1,2630.9 L920.9,2632.6 L924.3,2600.3 L930.1,2600.3 L933.4,2613.9 L936.8,2617.3 L940.2,2637.7 L943.6,2654.0 L951.4,2654.7 L954.8,2650.6 L959.9,2654.0 L965.0,2656.4 L968.4,2666.6 L971.1,2607.1 L983.7,2606.5 L988.8,2566.4 L992.2,2564.7 L994.6,2521.6 L998.0,2552.8 L1000.0,2589.7 L1002.9,2574.9 L1008.1,2574.9 L1011.8,2589.7 L1015.4,2606.2 L1020.2,2604.4 L1025.0,2596.3 L1031.3,2595.2 L1034.9,2580.5 L1038.6,2582.3 L1043.4,2597.0 L1046.0,2606.2 L1048.6,2606.2 L1051.5,2624.6 L1055.2,2622.8 L1058.9,2635.6 L1063.3,2635.6 L1066.9,2624.6 L1069.9,2620.9 L1073.6,2633.8 L1077.2,2650.3 L1080.2,2652.2 L1082.8,2678.7 L1086.4,2670.6 L1090.1,2650.3 L1093.8,2657.7 L1099.3,2652.9 L1112.2,2652.9 L1117.0,2666.9 L1123.2,2677.2 L1128.7,2663.2 L1132.4,2644.8 L1135.4,2600.7 L1137.9,2514.3 L1139.8,2547.4 L1144.2,2552.9 L1147.1,2560.2 L1151.5,2589.7 L1156.3,2587.8 L1161.8,2591.5 L1169.2,2587.8 L1174.7,2597.0 L1179.5,2605.1 L1185.8,2607.3 L1190.5,2603.6 L1196.8,2609.9 L1204.1,2613.6 L1209.7,2606.2 L1217.0,2606.2 L1220.7,2619.1 L1224.4,2666.9 L1228.8,2712.9 L1232.5,2714.7 L1237.2,2706.6 L1240.9,2714.7 L1245.7,2725.0 L1250.1,2723.9 L1253.8,2732.4 L1261.2,2734.9 L1267.8,2727.6 L1272.9,2712.9 L1277.7,2681.6 L1282.5,2683.5 L1287.6,2683.5 L1292.4,2677.2 L1297.2,2689.0 L1301.6,2707.4 L1307.1,2707.4 L1312.6,2689.0 L1317.1,2672.4 L1320.0,2666.9 L1325.5,2665.1 L1329.2,2643.0 L1334.7,2641.2 L1340.2,2634.5 L1347.6,2634.5 L1352.4,2622.8 L1356.8,2624.6 L1362.3,2643.0 L1366.0,2674.3 L1368.6,2679.8 L1372.2,2661.4 L1375.9,2650.3 L1378.9,2672.4 L1382.5,2662.5 L1386.2,2652.2 L1391.7,2633.8 L1397.2,2633.8 L1402.8,2641.2 L1406.4,2643.0 L1410.1,2652.9 L1413.8,2654.0 L1419.3,2668.7 L1423.0,2670.6 L1427.4,2676.1 L1437.7,2677.2 L1440.7,2690.8 L1445.1,2683.5 L1449.5,2683.5" fill="none" stroke="#2950a8" stroke-width="3.7" stroke-linejoin="round" stroke-linecap="round"/>
<rect x="211.9" y="2199.0" width="1238.5" height="619.2" fill="none" stroke="#0a0a0a" stroke-width="4.0"/>
<line x1="1450.4" y1="2818.2" x2="1450.4" y2="2823.7" stroke="#0a0a0a" stroke-width="4.0"/>
<line x1="192.6" y1="2818.2" x2="211.9" y2="2818.2" stroke="#0a0a0a" stroke-width="4.0"/>
<text transform="matrix(1.0000 0 0 1.0220 152.25 2838.80)" font-size="68.5">0</text>
<line x1="192.6" y1="2663.4" x2="211.9" y2="2663.4" stroke="#0a0a0a" stroke-width="4.0"/>
<text transform="matrix(1.0000 0 0 1.0220 152.25 2684.00)" font-size="68.5">5</text>
<line x1="192.6" y1="2508.6" x2="211.9" y2="2508.6" stroke="#0a0a0a" stroke-width="4.0"/>
<text transform="matrix(1.0000 0 0 1.0220 118.77 2529.20)" font-size="68.5">10</text>
<g transform="matrix(1.0000 0 0 1.0220 118.77 2529.20)" fill="#fff"><rect x="3.43" y="-6.30" width="13.60" height="7.54"/><rect x="23.56" y="-6.30" width="13.02" height="7.54"/></g>
<line x1="192.6" y1="2353.8" x2="211.9" y2="2353.8" stroke="#0a0a0a" stroke-width="4.0"/>
<text transform="matrix(1.0000 0 0 1.0220 118.77 2374.40)" font-size="68.5">15</text>
<g transform="matrix(1.0000 0 0 1.0220 118.77 2374.40)" fill="#fff"><rect x="3.43" y="-6.30" width="13.60" height="7.54"/><rect x="23.56" y="-6.30" width="13.02" height="7.54"/></g>
<line x1="192.6" y1="2199.0" x2="211.9" y2="2199.0" stroke="#0a0a0a" stroke-width="4.0"/>
<text transform="matrix(1.0000 0 0 1.0220 118.77 2219.60)" font-size="68.5">20</text>
<line x1="211.9" y1="2818.2" x2="211.9" y2="2835.8999999999996" stroke="#0a0a0a" stroke-width="4.0"/>
<text transform="matrix(1.0000 0 0 1.0220 194.75 2900.40)" font-size="68.5">0</text>
<line x1="479.3" y1="2818.2" x2="479.3" y2="2835.8999999999996" stroke="#0a0a0a" stroke-width="4.0"/>
<text transform="matrix(1.0000 0 0 1.0220 427.78 2900.40)" font-size="68.5">100</text>
<g transform="matrix(1.0000 0 0 1.0220 427.78 2900.40)" fill="#fff"><rect x="3.43" y="-6.30" width="13.60" height="7.54"/><rect x="23.56" y="-6.30" width="13.02" height="7.54"/></g>
<line x1="746" y1="2818.2" x2="746" y2="2835.8999999999996" stroke="#0a0a0a" stroke-width="4.0"/>
<text transform="matrix(1.0000 0 0 1.0220 694.48 2900.40)" font-size="68.5">200</text>
<line x1="1013.6" y1="2818.2" x2="1013.6" y2="2835.8999999999996" stroke="#0a0a0a" stroke-width="4.0"/>
<text transform="matrix(1.0000 0 0 1.0220 962.08 2900.40)" font-size="68.5">300</text>
<line x1="1280.3" y1="2818.2" x2="1280.3" y2="2835.8999999999996" stroke="#0a0a0a" stroke-width="4.0"/>
<text transform="matrix(1.0000 0 0 1.0220 1228.78 2900.40)" font-size="68.5">400</text>
<line x1="345.3" y1="2818.2" x2="345.3" y2="2828.2" stroke="#0a0a0a" stroke-width="4.0"/>
<line x1="612.8" y1="2818.2" x2="612.8" y2="2828.2" stroke="#0a0a0a" stroke-width="4.0"/>
<line x1="880" y1="2818.2" x2="880" y2="2828.2" stroke="#0a0a0a" stroke-width="4.0"/>
<line x1="1147.1" y1="2818.2" x2="1147.1" y2="2828.2" stroke="#0a0a0a" stroke-width="4.0"/>
<line x1="1414.9" y1="2818.2" x2="1414.9" y2="2828.2" stroke="#0a0a0a" stroke-width="4.0"/>
<text transform="matrix(1.0000 0 0 1.0000 248.30 2295.80)" font-size="68.5">type 2</text>
</g>
<text transform="translate(51.1,1820.8) rotate(-90)" font-size="66.3">enrichment (IP/input)</text>
<text transform="matrix(1.0000 0 0 1.0000 620.68 3025.60)" font-size="66.3">codon/residue</text>
</svg>
</body></html>
